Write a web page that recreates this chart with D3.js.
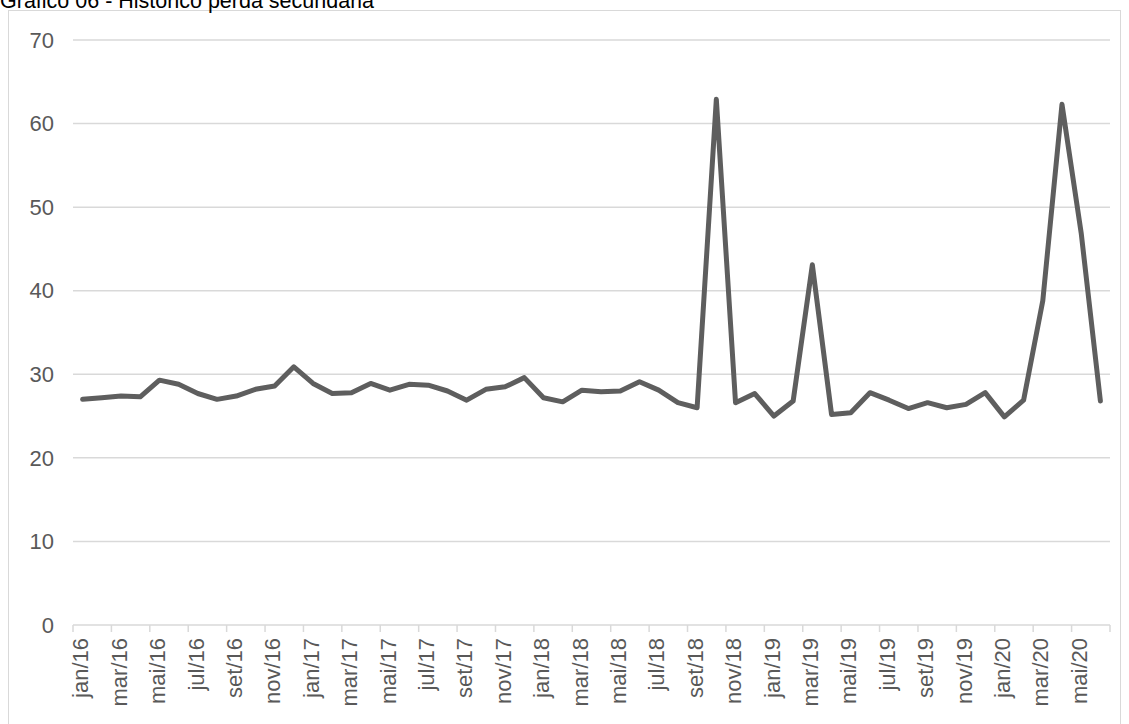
<!DOCTYPE html>
<html>
<head>
<meta charset="utf-8">
<script src="https://cdn.jsdelivr.net/npm/d3@7"></script>
<style>
  html, body { margin: 0; padding: 0; background: #fff; }
  svg { display: block; }
  text { font-family: "Liberation Sans", Arial, sans-serif; fill: #595959; }
</style>
</head>
<body>
<svg id="chart" width="1129" height="724"></svg>
<script>
// Monthly series, jan/16 – jun/20
const months = [
  "jan/16","fev/16","mar/16","abr/16","mai/16","jun/16","jul/16","ago/16","set/16","out/16","nov/16","dez/16",
  "jan/17","fev/17","mar/17","abr/17","mai/17","jun/17","jul/17","ago/17","set/17","out/17","nov/17","dez/17",
  "jan/18","fev/18","mar/18","abr/18","mai/18","jun/18","jul/18","ago/18","set/18","out/18","nov/18","dez/18",
  "jan/19","fev/19","mar/19","abr/19","mai/19","jun/19","jul/19","ago/19","set/19","out/19","nov/19","dez/19",
  "jan/20","fev/20","mar/20","abr/20","mai/20","jun/20"
];
const perda = [
  27.0, 27.2, 27.4, 27.3, 29.3, 28.8, 27.7, 27.0, 27.4, 28.2, 28.6, 30.9,
  28.9, 27.7, 27.8, 28.9, 28.1, 28.8, 28.7, 28.0, 26.9, 28.2, 28.5, 29.6,
  27.2, 26.7, 28.1, 27.9, 28.0, 29.1, 28.1, 26.6, 26.0, 62.9, 26.6, 27.7,
  25.0, 26.8, 43.1, 25.2, 25.4, 27.8, 26.9, 25.9, 26.6, 26.0, 26.4, 27.8,
  24.9, 26.9, 38.8, 62.3, 46.9, 26.8
];
const yTicks = [0, 10, 20, 30, 40, 50, 60, 70];
const title = "Gráfico 06 - Histórico perda secundária";

const svg = d3.select("#chart");
const plot = { left: 73, right: 1110, top: 40, bottom: 625 };

// Outer chart frame (runs past the bottom edge)
svg.append("rect")
  .attr("x", 8.5).attr("y", 10.5)
  .attr("width", 1112).attr("height", 800)
  .attr("fill", "none").attr("stroke", "#d9d9d9").attr("stroke-width", 1);

// Caption above the frame
svg.append("text")
  .attr("x", 0).attr("y", 8)
  .style("font-size", "21.5px")
  .style("fill", "#000")
  .text(title);

const x = d3.scaleBand().domain(months).range([plot.left, plot.right]).padding(0);
const y = d3.scaleLinear().domain([0, 70]).range([plot.bottom, plot.top]);
const cx = d => x(d) + x.bandwidth() / 2;

// Horizontal gridlines
svg.append("g").selectAll("line")
  .data(yTicks.filter(t => t > 0))
  .join("line")
  .attr("x1", plot.left).attr("x2", plot.right)
  .attr("y1", d => y(d)).attr("y2", d => y(d))
  .attr("stroke", "#d9d9d9").attr("stroke-width", 1.5);

// Y axis labels
svg.append("g").selectAll("text")
  .data(yTicks)
  .join("text")
  .attr("x", 54).attr("y", d => y(d))
  .attr("dy", "0.35em")
  .attr("text-anchor", "end")
  .style("font-size", "22px")
  .text(d => d);

// X axis baseline and tick marks every second month
const xAxis = svg.append("g");
xAxis.append("line")
  .attr("x1", plot.left).attr("x2", plot.right)
  .attr("y1", y(0)).attr("y2", y(0))
  .attr("stroke", "#d9d9d9").attr("stroke-width", 1.5);

const tickMonths = months.filter((m, i) => i % 2 === 0);
xAxis.selectAll("line.tick")
  .data(tickMonths.concat([null]))
  .join("line")
  .attr("class", "tick")
  .attr("x1", d => d === null ? plot.right : x(d))
  .attr("x2", d => d === null ? plot.right : x(d))
  .attr("y1", y(0)).attr("y2", y(0) + 7)
  .attr("stroke", "#d9d9d9").attr("stroke-width", 1.5);

// Rotated month labels
xAxis.selectAll("text")
  .data(tickMonths)
  .join("text")
  .attr("transform", d => `translate(${cx(d) - 2},${y(0) + 13}) rotate(-90)`)
  .attr("dy", "0.35em")
  .attr("text-anchor", "end")
  .style("font-size", "22px")
  .text(d => d);

// Data line
const line = d3.line()
  .x((d, i) => cx(months[i]))
  .y(d => y(d));

svg.append("path")
  .datum(perda)
  .attr("d", line)
  .attr("fill", "none")
  .attr("stroke", "#5e5e5e")
  .attr("stroke-width", 5)
  .attr("stroke-linejoin", "round")
  .attr("stroke-linecap", "round");
</script>
</body>
</html>
